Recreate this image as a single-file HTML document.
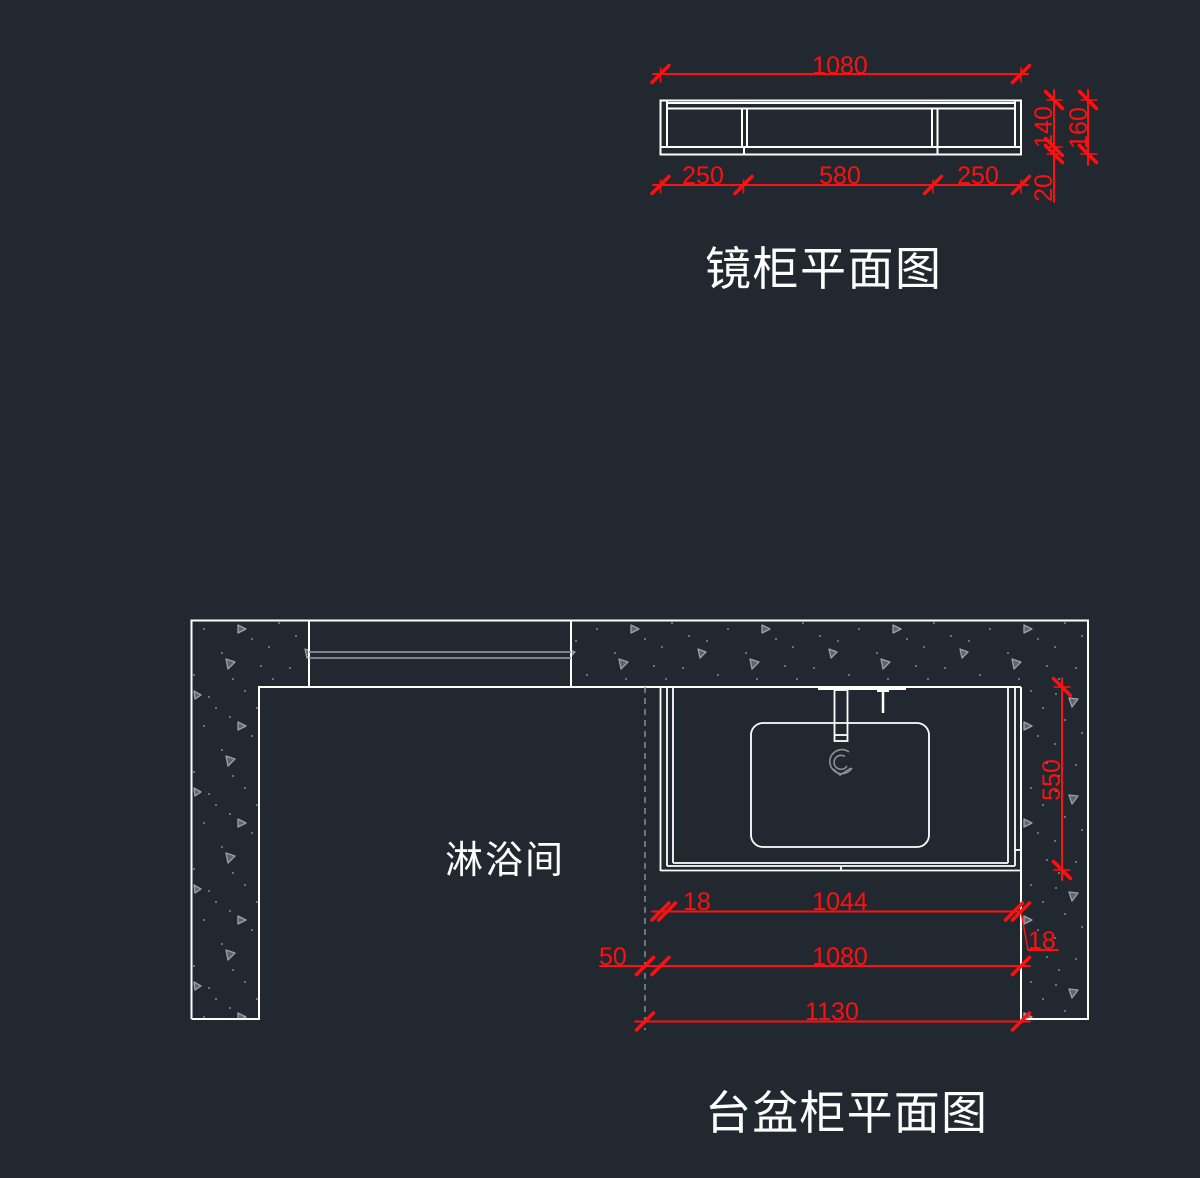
<!DOCTYPE html>
<html><head><meta charset="utf-8"><style>
html,body{margin:0;padding:0;background:#212830;}
svg{display:block;}
</style></head><body>
<svg width="1200" height="1178" viewBox="0 0 1200 1178" xmlns="http://www.w3.org/2000/svg">
<defs>
<pattern id="stone" patternUnits="userSpaceOnUse" width="131" height="97" x="3" y="7">
<g fill="#a3a7ab">
<circle cx="5" cy="8" r="0.9"/><circle cx="38" cy="14" r="0.9"/><circle cx="75" cy="11" r="0.9"/><circle cx="111" cy="5" r="0.9"/>
<circle cx="14" cy="34" r="0.9"/><circle cx="54" cy="29" r="0.9"/><circle cx="96" cy="31" r="0.9"/><circle cx="123" cy="22" r="0.9"/>
<circle cx="4" cy="58" r="0.9"/><circle cx="49" cy="52" r="0.9"/><circle cx="88" cy="64" r="0.9"/><circle cx="118" cy="50" r="0.9"/>
<circle cx="25" cy="79" r="0.9"/><circle cx="60" cy="86" r="0.9"/><circle cx="99" cy="90" r="0.9"/><circle cx="127" cy="77" r="0.9"/>
<circle cx="31" cy="47" r="0.9"/><circle cx="70" cy="40" r="0.9"/><circle cx="8" cy="90" r="0.9"/><circle cx="82" cy="22" r="0.9"/>
</g>
<g fill="#5f646b" stroke="#9da1a6" stroke-width="1.3" stroke-linejoin="round">
<path d="M18,12 L27,13 L21,21 Z"/>
<path d="M92,70 L101,73 L94,80 Z"/>
<path d="M40,60 L48,63 L42,69 Z"/>
<path d="M104,36 L112,40 L104,44 Z"/>
<path d="M60,5 L67,9 L61,13 Z"/>
</g>
</pattern>
</defs>

<!-- stone walls -->
<path d="M191.5,620.5 H309 V687 H259 V1019 H191.5 Z" fill="url(#stone)"/>
<path d="M571,620.5 H1088 V1019 H1021 V687 H571 Z" fill="url(#stone)"/>

<!-- ===== Mirror cabinet ===== -->
<g stroke="#ffffff" stroke-width="2" fill="none">
<rect x="660.5" y="100.5" width="360.5" height="54"/>
<line x1="667" y1="100.5" x2="667" y2="147"/>
<line x1="1015" y1="100.5" x2="1015" y2="147"/>
<line x1="667" y1="103" x2="1015" y2="103"/>
<line x1="667" y1="108.5" x2="1015" y2="108.5"/>
<line x1="660.5" y1="147" x2="1021" y2="147"/>
<line x1="742" y1="108.5" x2="742" y2="147"/>
<line x1="747" y1="108.5" x2="747" y2="147"/>
<line x1="932" y1="108.5" x2="932" y2="147"/>
<line x1="937.5" y1="108.5" x2="937.5" y2="147"/>
<line x1="744" y1="147" x2="744" y2="154"/>
<line x1="937.5" y1="147" x2="937.5" y2="154"/>
</g>

<g stroke="#ff1010" fill="none" stroke-linecap="round">
<!-- top 1080 -->
<line x1="653" y1="74" x2="1028" y2="74" stroke-width="2"/>
<line x1="652" y1="82.5" x2="669" y2="65.5" stroke-width="3.5"/>
<line x1="1012.5" y1="82.5" x2="1029.5" y2="65.5" stroke-width="3.5"/>
<line x1="660.5" y1="68" x2="660.5" y2="82" stroke-width="1.5"/>
<line x1="1021" y1="68" x2="1021" y2="82" stroke-width="1.5"/>
<!-- bottom 250/580/250 -->
<line x1="653" y1="185" x2="1028" y2="185" stroke-width="2"/>
<line x1="652" y1="193.5" x2="669" y2="176.5" stroke-width="3.5"/>
<line x1="735" y1="193.5" x2="752" y2="176.5" stroke-width="3.5"/>
<line x1="924.5" y1="193.5" x2="941.5" y2="176.5" stroke-width="3.5"/>
<line x1="1012.5" y1="193.5" x2="1029.5" y2="176.5" stroke-width="3.5"/>
<line x1="660.5" y1="180" x2="660.5" y2="193" stroke-width="1.5"/>
<line x1="743.5" y1="180" x2="743.5" y2="193" stroke-width="1.5"/>
<line x1="933" y1="180" x2="933" y2="193" stroke-width="1.5"/>
<line x1="1021" y1="180" x2="1021" y2="193" stroke-width="1.5"/>
<!-- vertical 140 / 20 -->
<line x1="1054" y1="90" x2="1054" y2="202" stroke-width="2"/>
<line x1="1045.5" y1="91.5" x2="1062.5" y2="108.5" stroke-width="3.5"/>
<line x1="1045.5" y1="138.5" x2="1062.5" y2="155.5" stroke-width="3.5"/>
<line x1="1045.5" y1="145.5" x2="1062.5" y2="162.5" stroke-width="3.5"/>
<line x1="1047" y1="100" x2="1062" y2="100" stroke-width="1.5"/>
<line x1="1047" y1="147" x2="1062" y2="147" stroke-width="1.5"/>
<line x1="1047" y1="154" x2="1062" y2="154" stroke-width="1.5"/>
<!-- vertical 160 -->
<line x1="1088" y1="90" x2="1088" y2="165" stroke-width="2"/>
<line x1="1079.5" y1="91.5" x2="1096.5" y2="108.5" stroke-width="3.5"/>
<line x1="1079.5" y1="145.5" x2="1096.5" y2="162.5" stroke-width="3.5"/>
<line x1="1081" y1="100" x2="1097" y2="100" stroke-width="1.5"/>
<line x1="1081" y1="154" x2="1097" y2="154" stroke-width="1.5"/>
</g>

<g fill="#ff1010" font-family="Liberation Sans, sans-serif" font-size="25">
<text x="840" y="74" text-anchor="middle">1080</text>
<text x="703" y="184" text-anchor="middle">250</text>
<text x="840" y="184" text-anchor="middle">580</text>
<text x="978" y="184" text-anchor="middle">250</text>
<text x="1052" y="127" text-anchor="middle" transform="rotate(-90 1052 127)">140</text>
<text x="1052" y="188" text-anchor="middle" transform="rotate(-90 1052 188)">20</text>
<text x="1087" y="128" text-anchor="middle" transform="rotate(-90 1087 128)">160</text>
</g>

<text x="705" y="285" fill="#ffffff" font-family="Noto Sans CJK SC, WenQuanYi Zen Hei, sans-serif" font-size="46" letter-spacing="1.5">镜柜平面图</text>

<!-- ===== Floor plan ===== -->
<g stroke="#ffffff" stroke-width="2" fill="none">
<path d="M191.5,1019 V620.5 H1088 V1019 H1021 V687"/>
<path d="M191.5,1019 H259 V687 H1021"/>
<line x1="309" y1="620.5" x2="309" y2="687"/>
<line x1="571" y1="620.5" x2="571" y2="687"/>
</g>
<g stroke="#8d9196" stroke-width="1.8">
<line x1="309" y1="652" x2="571" y2="652"/>
<line x1="309" y1="658" x2="571" y2="658"/>
</g>

<!-- dashed line -->
<line x1="645" y1="687" x2="645" y2="1030" stroke="#8a9098" stroke-width="1.5" stroke-dasharray="6,5"/>

<!-- cabinet -->
<g stroke="#ffffff" stroke-width="1.8" fill="none">
<line x1="660.5" y1="687" x2="660.5" y2="871"/>
<line x1="667" y1="687" x2="667" y2="866"/>
<line x1="673" y1="687" x2="673" y2="863"/>
<line x1="673" y1="863" x2="1008" y2="863"/>
<line x1="667" y1="866" x2="1015" y2="866"/>
<line x1="660.5" y1="870.5" x2="1021" y2="870.5"/>
<line x1="1008" y1="687" x2="1008" y2="863"/>
<line x1="1015" y1="687" x2="1015" y2="866"/>
<line x1="1015" y1="850" x2="1021" y2="850"/>
<line x1="841" y1="866" x2="841" y2="870.5"/>
<rect x="751" y="723" width="178" height="124" rx="12"/>
<rect x="834.5" y="690" width="13" height="51"/>
<line x1="834.5" y1="735" x2="847.5" y2="735"/>
<line x1="883" y1="690" x2="883" y2="713" stroke-width="2.5"/>
</g>
<rect x="818" y="686.5" width="88" height="3.5" fill="#ffffff"/>
<rect x="877" y="688" width="12" height="4" fill="#ffffff"/>
<g stroke="#8d9196" stroke-width="1.6" fill="none">
<path d="M849,752 A12,12 0 1 0 852,768"/>
<path d="M845,756.5 A7,7 0 1 0 847,766"/>
<path d="M833,769 L840,775 L851,768"/>
</g>

<text x="445" y="873" fill="#ffffff" font-family="Noto Sans CJK SC, WenQuanYi Zen Hei, sans-serif" font-size="38" letter-spacing="2">淋浴间</text>

<!-- red dims floor -->
<g stroke="#ff1010" fill="none" stroke-linecap="round">
<!-- 550 -->
<line x1="1062" y1="678" x2="1062" y2="880" stroke-width="2"/>
<line x1="1053.5" y1="678.5" x2="1070.5" y2="695.5" stroke-width="3.5"/>
<line x1="1053.5" y1="861.5" x2="1070.5" y2="878.5" stroke-width="3.5"/>
<line x1="1054" y1="687" x2="1070" y2="687" stroke-width="1.5"/>
<line x1="1054" y1="870" x2="1070" y2="870" stroke-width="1.5"/>
<!-- 1044 -->
<line x1="652" y1="911.5" x2="1022" y2="911.5" stroke-width="2"/>
<line x1="652" y1="920" x2="669" y2="903" stroke-width="3.5"/>
<line x1="658.5" y1="920" x2="675.5" y2="903" stroke-width="3.5"/>
<line x1="1005.5" y1="920" x2="1022.5" y2="903" stroke-width="3.5"/>
<line x1="1012.5" y1="920" x2="1029.5" y2="903" stroke-width="3.5"/>
<line x1="1021" y1="911.5" x2="1028" y2="950" stroke-width="1.5"/>
<line x1="1028" y1="950" x2="1058" y2="950" stroke-width="2"/>
<!-- 1080 -->
<line x1="600" y1="966" x2="1030" y2="966" stroke-width="2"/>
<line x1="636.5" y1="974.5" x2="653.5" y2="957.5" stroke-width="3.5"/>
<line x1="652" y1="974.5" x2="669" y2="957.5" stroke-width="3.5"/>
<line x1="1012.5" y1="974.5" x2="1029.5" y2="957.5" stroke-width="3.5"/>
<!-- 1130 -->
<line x1="635" y1="1021.5" x2="1030" y2="1021.5" stroke-width="2"/>
<line x1="636.5" y1="1030" x2="653.5" y2="1013" stroke-width="3.5"/>
<line x1="1012.5" y1="1030" x2="1029.5" y2="1013" stroke-width="3.5"/>
</g>
<g fill="#ff1010" font-family="Liberation Sans, sans-serif" font-size="25">
<text x="1060" y="780" text-anchor="middle" transform="rotate(-90 1060 780)">550</text>
<text x="683" y="910">18</text>
<text x="840" y="910" text-anchor="middle">1044</text>
<text x="1028" y="949">18</text>
<text x="599" y="965">50</text>
<text x="840" y="965" text-anchor="middle">1080</text>
<text x="832" y="1020" text-anchor="middle">1130</text>
</g>

<text x="705" y="1129" fill="#ffffff" font-family="Noto Sans CJK SC, WenQuanYi Zen Hei, sans-serif" font-size="46" letter-spacing="1.2">台盆柜平面图</text>
</svg>
</body></html>
